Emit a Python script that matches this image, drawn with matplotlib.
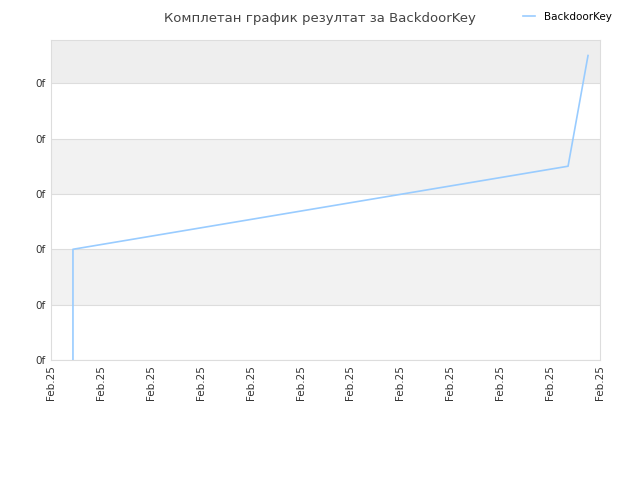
import matplotlib
matplotlib.use("Agg")
import matplotlib.pyplot as plt

# values (x in tick units, y in tick units)
x_vals = [0.44, 0.44, 10.36, 10.76]
y_vals = [0.0, 2.0, 3.5, 5.5]
x_ticks = list(range(12))
x_labels = ["Feb.25"] * 12
y_ticks = list(range(6))
y_labels = ["0f"] * 6

fig = plt.figure(figsize=(6.4, 4.8), dpi=100)
ax = fig.add_axes([51 / 640, 120 / 480, 549 / 640, 320 / 480])

# alternating bands
band_cols = ["#ffffff", "#f2f2f2", "#ffffff", "#f2f2f2", "#ffffff", "#eeeeee"]
for i, c in enumerate(band_cols):
    ax.axhspan(i, i + 1, color=c, zorder=0, lw=0)
for t in y_ticks:
    ax.axhline(t, color="#dddddd", lw=0.8, zorder=1)

ax.plot(x_vals, y_vals, color="#99ccff", lw=1.2, label="BackdoorKey", zorder=3)

ax.set_xlim(0, 11)
ax.set_ylim(0, 5.78)
ax.set_xticks(x_ticks)
ax.set_xticklabels(x_labels, rotation=90, fontsize=7.5, color="#333333")
ax.set_yticks(y_ticks)
ax.set_yticklabels(y_labels, fontsize=7.5, color="#333333")
ax.tick_params(length=0, pad=4)
for s in ax.spines.values():
    s.set_color("#dddddd")
    s.set_linewidth(0.8)

fig.text(0.5, 0.975, "Комплетан график резултат за BackdoorKey",
         ha="center", va="top", fontsize=9.5, color="#444444")
fig.legend(loc="upper right", bbox_to_anchor=(0.97, 0.995), frameon=False,
           fontsize=7.5, handlelength=1.2)

fig.savefig("out.png", dpi=100)
